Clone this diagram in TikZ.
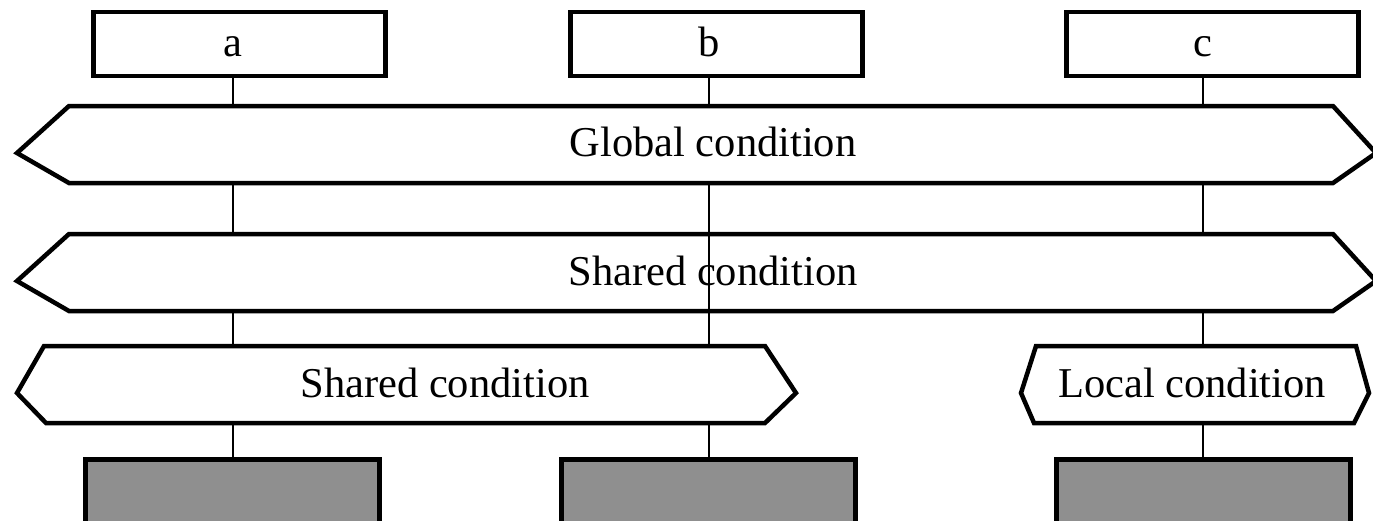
\documentclass[tikz,border=0pt]{standalone}
\usepackage{fontspec}
\setmainfont{Liberation Serif}
\definecolor{boxgray}{RGB}{143,143,143}
\begin{document}
\begin{tikzpicture}[x=1pt,y=-1pt,
  frame/.style={draw, line width=4.5pt},
  topbox/.style={frame, fill=white, minimum width=292pt, minimum height=64pt, inner sep=0pt},
  basebox/.style={frame, line width=5pt, fill=boxgray, minimum width=294pt, minimum height=110pt, inner sep=0pt, anchor=north},
  hexframe/.style={frame, fill=white},
  wire/.style={draw, line width=2pt},
  lbl/.style={font=\fontsize{42.5}{50}\selectfont, inner sep=0pt, anchor=base}]
\useasboundingbox (0,0) rectangle (1373,520);
\clip (0,0) rectangle (1373,520);

% columns of the three lifelines
\coordinate (xa) at (233,0);
\coordinate (xb) at (709,0);
\coordinate (xc) at (1203,0);

% heads
\node[topbox] (ta) at (239.5,44) {};
\node[topbox] (tb) at (716.5,44) {};
\node[topbox] (tc) at (1212.5,44) {};
\node[lbl] (la) at (233,56) {a};
\node[lbl] (lb) at (709,56) {b};
\node[lbl] (lc) at (1203,56) {c};

% feet
\node[basebox] (ba) at (232.5,457) {};
\node[basebox] (bb) at (708.5,457) {};
\node[basebox] (bc) at (1203.5,457) {};

% lifelines (behind the condition bands)
\draw[wire] (xa |- ta.south) -- (xa |- ba.north);
\draw[wire] (xb |- tb.south) -- (xb |- bb.north);
\draw[wire] (xc |- tc.south) -- (xc |- bc.north);

% condition bands
\draw[hexframe] (69,106) -- (1333,106) -- (1376,153) -- (1333,183) -- (69,183) -- (17,153) -- cycle;
\coordinate (gbot) at (0,183);
\draw[hexframe] (69,234) -- (1333,234) -- (1376,281) -- (1333,311) -- (69,311) -- (17,281) -- cycle;
\draw[hexframe] (44,346) -- (765,346) -- (796,393) -- (765,423) -- (46,423) -- (17,393) -- cycle;
\coordinate (stop) at (0,346);
\draw[hexframe] (1036,346) -- (1356,346) -- (1369,393) -- (1354,423) -- (1034,423) -- (1021,393) -- cycle;

\node[lbl] (tg) at (713,156) {Global condition};
\node[lbl] (ts) at (713,285) {Shared condition};
\node[lbl] (tsl) at (445,397) {Shared condition};
\node[lbl] (tl) at (1192,397) {Local condition};

% lifeline b runs across the shared band
\draw[wire] (xb |- gbot) -- (xb |- stop);
\end{tikzpicture}
\end{document}
